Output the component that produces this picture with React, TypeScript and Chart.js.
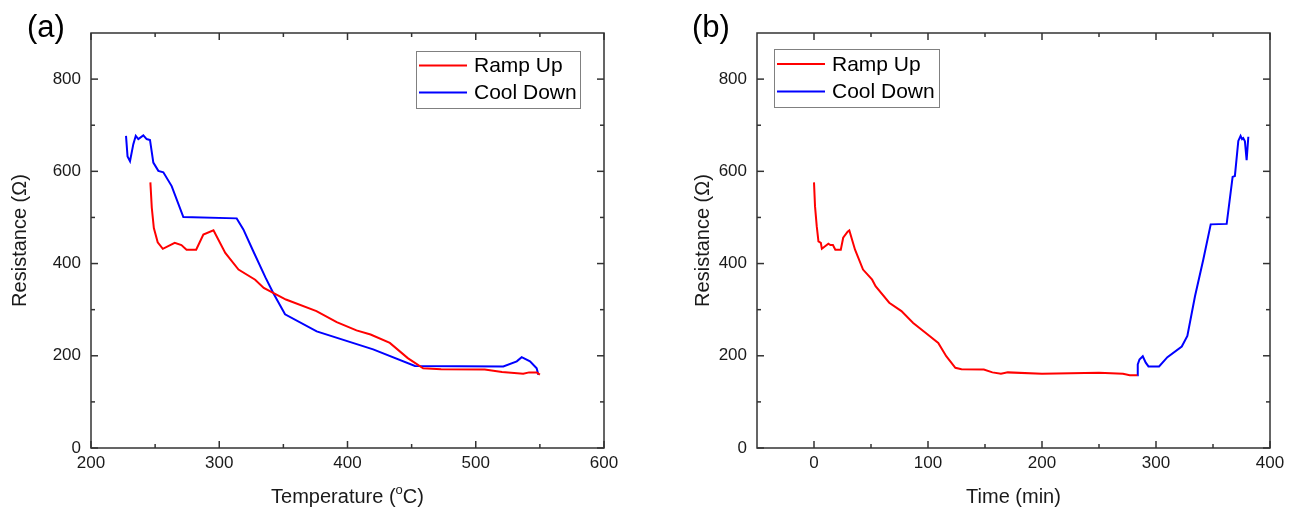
import React, { useEffect, useRef } from 'react';
import { Chart, registerables } from 'chart.js';

Chart.register(...registerables);

// ---------- data: panel (a) resistance vs temperature ----------
const A_RAMP_T = [246.3, 247.4, 249, 252, 256, 265.3, 270.5, 274.5, 282, 287.6, 295.5, 304.7, 315, 328, 334.7, 352, 375.8, 391.6, 407, 418, 433, 447, 459, 473, 507, 520.5, 537, 541.6, 547.5, 550];
const A_RAMP_R = [576, 521, 477, 446, 432, 445, 440, 430, 430, 463, 472, 423, 387, 365, 347, 322, 297, 273, 255, 246, 228, 195, 173, 171, 170, 165, 161, 164, 164, 159];

const A_COOL_T = [548.8, 547.5, 542.3, 535.8, 532, 521.5, 452.6, 420, 376, 351.3, 342.1, 336, 326, 318.8, 313.6, 272, 262.9, 256.4, 252.5, 248.6, 246, 243.4, 240.8, 236.9, 234.9, 233, 230.4, 228.5, 227.3];
const A_COOL_R = [159, 173, 188, 197, 188, 177, 178, 214, 253, 290, 336, 370, 430, 474, 498, 501, 568, 598, 601, 619, 668, 670, 678, 670, 677, 659, 622, 632, 677];

// ---------- data: panel (b) resistance vs time ----------
const B_RAMP_T = [0, 0.9, 2.4, 3.9, 6, 6.9, 12.6, 14.4, 16.6, 18.7, 23.5, 25.6, 29.5, 31, 36, 43, 51, 54, 66, 76.7, 87, 97.8, 109, 116, 124, 129.4, 149, 156.5, 164, 170, 200, 250, 271, 277, 283.5];
const B_RAMP_R = [576, 524, 481, 448, 445, 432, 443, 440, 440, 430, 430, 456, 469, 472, 430, 387, 365, 351, 315, 297, 271, 250, 228, 199, 174, 171, 170, 164, 161, 164, 161, 163, 161, 158, 158];

const B_COOL_T = [283.5, 284, 285.5, 288.4, 291, 293.4, 302.7, 310, 322.6, 327.5, 334.2, 341.5, 348, 362, 367.2, 369.2, 372.2, 374.2, 375.5, 376.5, 378, 379.5, 381];
const B_COOL_R = [158, 181, 192, 199, 185, 177, 177, 197, 220, 243, 329, 409, 485, 486, 588, 590, 666, 677, 670, 672, 665, 624, 675];

// ---------- ticks ----------
const Y_TICKS = [0, 200, 400, 600, 800];
const Y_MINOR = [100, 300, 500, 700];
const XA_TICKS = [200, 300, 400, 500, 600];
const XA_MINOR = [250, 350, 450, 550];
const XB_TICKS = [0, 100, 200, 300, 400];
const XB_MINOR = [50, 150, 250, 350];

const SERIES_LABELS = ['Ramp Up', 'Cool Down'];
const RED = '#FF0000';
const BLUE = '#0000FF';
const FONT = "Arial, 'Liberation Sans', sans-serif";
const TEXT = '#1a1a1a';

const pts = (xs: number[], ys: number[]) => xs.map((x, i) => ({ x, y: ys[i] }));

const framePlugin = {
  id: 'frame',
  afterDraw(chart: any, _args: any, opts: any) {
    const { ctx, chartArea: a, scales } = chart;
    const xs = scales.x;
    const ys = scales.y;
    ctx.save();
    ctx.strokeStyle = '#333333';
    ctx.lineWidth = 1.5;
    const line = (x1: number, y1: number, x2: number, y2: number) => {
      ctx.beginPath();
      ctx.moveTo(x1, y1);
      ctx.lineTo(x2, y2);
      ctx.stroke();
    };
    const xt = (vals: number[], len: number) => {
      for (const v of vals) {
        const p = xs.getPixelForValue(v);
        line(p, a.bottom, p, a.bottom - len);
        line(p, a.top, p, a.top + len);
      }
    };
    const yt = (vals: number[], len: number) => {
      for (const v of vals) {
        const p = ys.getPixelForValue(v);
        line(a.left, p, a.left + len, p);
        line(a.right, p, a.right - len, p);
      }
    };
    xt(opts.xMajor, 7);
    xt(opts.xMinor, 4);
    yt(opts.yMajor, 7);
    yt(opts.yMinor, 4);
    ctx.strokeRect(a.left, a.top, a.right - a.left, a.bottom - a.top);

    // legend
    const L = opts.legend;
    ctx.lineWidth = 1;
    ctx.strokeStyle = '#808080';
    ctx.strokeRect(L.x + 0.5, L.y + 0.5, L.w, L.h);
    ctx.font = `21px ${FONT}`;
    ctx.textBaseline = 'middle';
    ctx.textAlign = 'left';
    chart.data.datasets.forEach((ds: any, i: number) => {
      const ry = L.y + L.row0 + i * L.rowGap;
      ctx.strokeStyle = ds.borderColor;
      ctx.lineWidth = 2;
      line(L.x + 3, ry, L.x + 51, ry);
      ctx.fillStyle = '#000';
      ctx.fillText(ds.label, L.x + 58, ry + 1);
    });

    // panel label
    ctx.font = `31px ${FONT}`;
    ctx.fillStyle = '#000';
    ctx.textBaseline = 'alphabetic';
    ctx.fillText(opts.panelLabel, opts.panelX, 36.5);

    // custom x title with superscript
    if (opts.xTitleParts) {
      const [pre, sup, post] = opts.xTitleParts;
      const cy = 497;
      ctx.fillStyle = TEXT;
      ctx.textBaseline = 'middle';
      ctx.font = `20px ${FONT}`;
      const w1 = ctx.measureText(pre).width;
      const w3 = ctx.measureText(post).width;
      ctx.font = `13px ${FONT}`;
      const w2 = ctx.measureText(sup).width;
      const total = w1 + w2 + w3;
      let x = (a.left + a.right) / 2 - total / 2;
      ctx.font = `20px ${FONT}`;
      ctx.fillText(pre, x, cy);
      x += w1;
      ctx.font = `13px ${FONT}`;
      ctx.fillText(sup, x, cy - 7);
      x += w2;
      ctx.font = `20px ${FONT}`;
      ctx.fillText(post, x, cy);
    }
    ctx.restore();
  },
};

type PanelProps = {
  left: number;
  width: number;
  yAxisWidth: number;
  rightPad: number;
  xMin: number;
  xMax: number;
  xTicks: number[];
  xMinor: number[];
  xTitle: string;
  xTitleParts?: string[];
  yTitlePad: number;
  ramp: { x: number; y: number }[];
  cool: { x: number; y: number }[];
  legend: { x: number; y: number; w: number; h: number; row0: number; rowGap: number };
  panelLabel: string;
  panelX: number;
};

function Panel(p: PanelProps) {
  const ref = useRef<HTMLCanvasElement>(null);
  useEffect(() => {
    if (!ref.current) return;
    const chart = new Chart(ref.current, {
      type: 'line',
      data: {
        datasets: [
          { label: SERIES_LABELS[0], data: p.ramp, borderColor: RED, backgroundColor: RED, borderWidth: 2, pointRadius: 0, tension: 0, fill: false },
          { label: SERIES_LABELS[1], data: p.cool, borderColor: BLUE, backgroundColor: BLUE, borderWidth: 2, pointRadius: 0, tension: 0, fill: false },
        ],
      },
      options: {
        responsive: false,
        animation: false,
        layout: { padding: { left: 0, right: p.rightPad, top: 33, bottom: 0 } },
        plugins: {
          legend: { display: false },
          tooltip: { enabled: false },
          frame: {
            xMajor: p.xTicks,
            xMinor: p.xMinor,
            yMajor: Y_TICKS,
            yMinor: Y_MINOR,
            legend: p.legend,
            panelLabel: p.panelLabel,
            panelX: p.panelX,
            xTitleParts: p.xTitleParts,
          },
        } as any,
        scales: {
          x: {
            type: 'linear',
            min: p.xMin,
            max: p.xMax,
            grid: { display: false, drawTicks: false },
            border: { display: false },
            afterBuildTicks: (s: any) => {
              s.ticks = p.xTicks.map((v) => ({ value: v }));
            },
            afterFit: (s: any) => {
              s.height = 66;
            },
            ticks: { padding: 5, color: TEXT, font: { family: FONT, size: 17 }, maxRotation: 0 },
            title: {
              display: !p.xTitleParts,
              text: p.xTitle,
              color: TEXT,
              font: { family: FONT, size: 20 },
              padding: { top: 0, bottom: 5 },
            },
          },
          y: {
            type: 'linear',
            min: 0,
            max: 900,
            grid: { display: false, drawTicks: false },
            border: { display: false },
            afterBuildTicks: (s: any) => {
              s.ticks = Y_TICKS.map((v) => ({ value: v }));
            },
            afterFit: (s: any) => {
              s.width = p.yAxisWidth;
            },
            ticks: { padding: 10, color: TEXT, font: { family: FONT, size: 17 } },
            title: {
              display: true,
              text: 'Resistance (Ω)',
              color: TEXT,
              font: { family: FONT, size: 20 },
              padding: { top: p.yTitlePad, bottom: 0 },
            },
          },
        },
      },
      plugins: [framePlugin as any],
    });
    return () => chart.destroy();
  }, []);
  return (
    <canvas
      ref={ref}
      width={p.width}
      height={514}
      style={{ position: 'absolute', left: p.left, top: 0, width: p.width, height: 514, display: 'block' }}
    />
  );
}

export default function App() {
  return (
    <div style={{ position: 'absolute', left: 0, top: 0, width: 1301, height: 514, background: '#fff' }}>
      <Panel
        left={0}
        width={650}
        yAxisWidth={91}
        rightPad={46}
        xMin={200}
        xMax={600}
        xTicks={XA_TICKS}
        xMinor={XA_MINOR}
        xTitle="Temperature (°C)"
        xTitleParts={['Temperature (', 'o', 'C)']}
        yTitlePad={8}
        ramp={pts(A_RAMP_T, A_RAMP_R)}
        cool={pts(A_COOL_T, A_COOL_R)}
        legend={{ x: 416, y: 51, w: 164, h: 57, row0: 14.6, rowGap: 27 }}
        panelLabel="(a)"
        panelX={27}
      />
      <Panel
        left={650}
        width={651}
        yAxisWidth={107}
        rightPad={31}
        xMin={-50}
        xMax={400}
        xTicks={XB_TICKS}
        xMinor={XB_MINOR}
        xTitle="Time (min)"
        yTitlePad={41}
        ramp={pts(B_RAMP_T, B_RAMP_R)}
        cool={pts(B_COOL_T, B_COOL_R)}
        legend={{ x: 124, y: 49, w: 165, h: 58, row0: 15, rowGap: 27.5 }}
        panelLabel="(b)"
        panelX={42}
      />
    </div>
  );
}
